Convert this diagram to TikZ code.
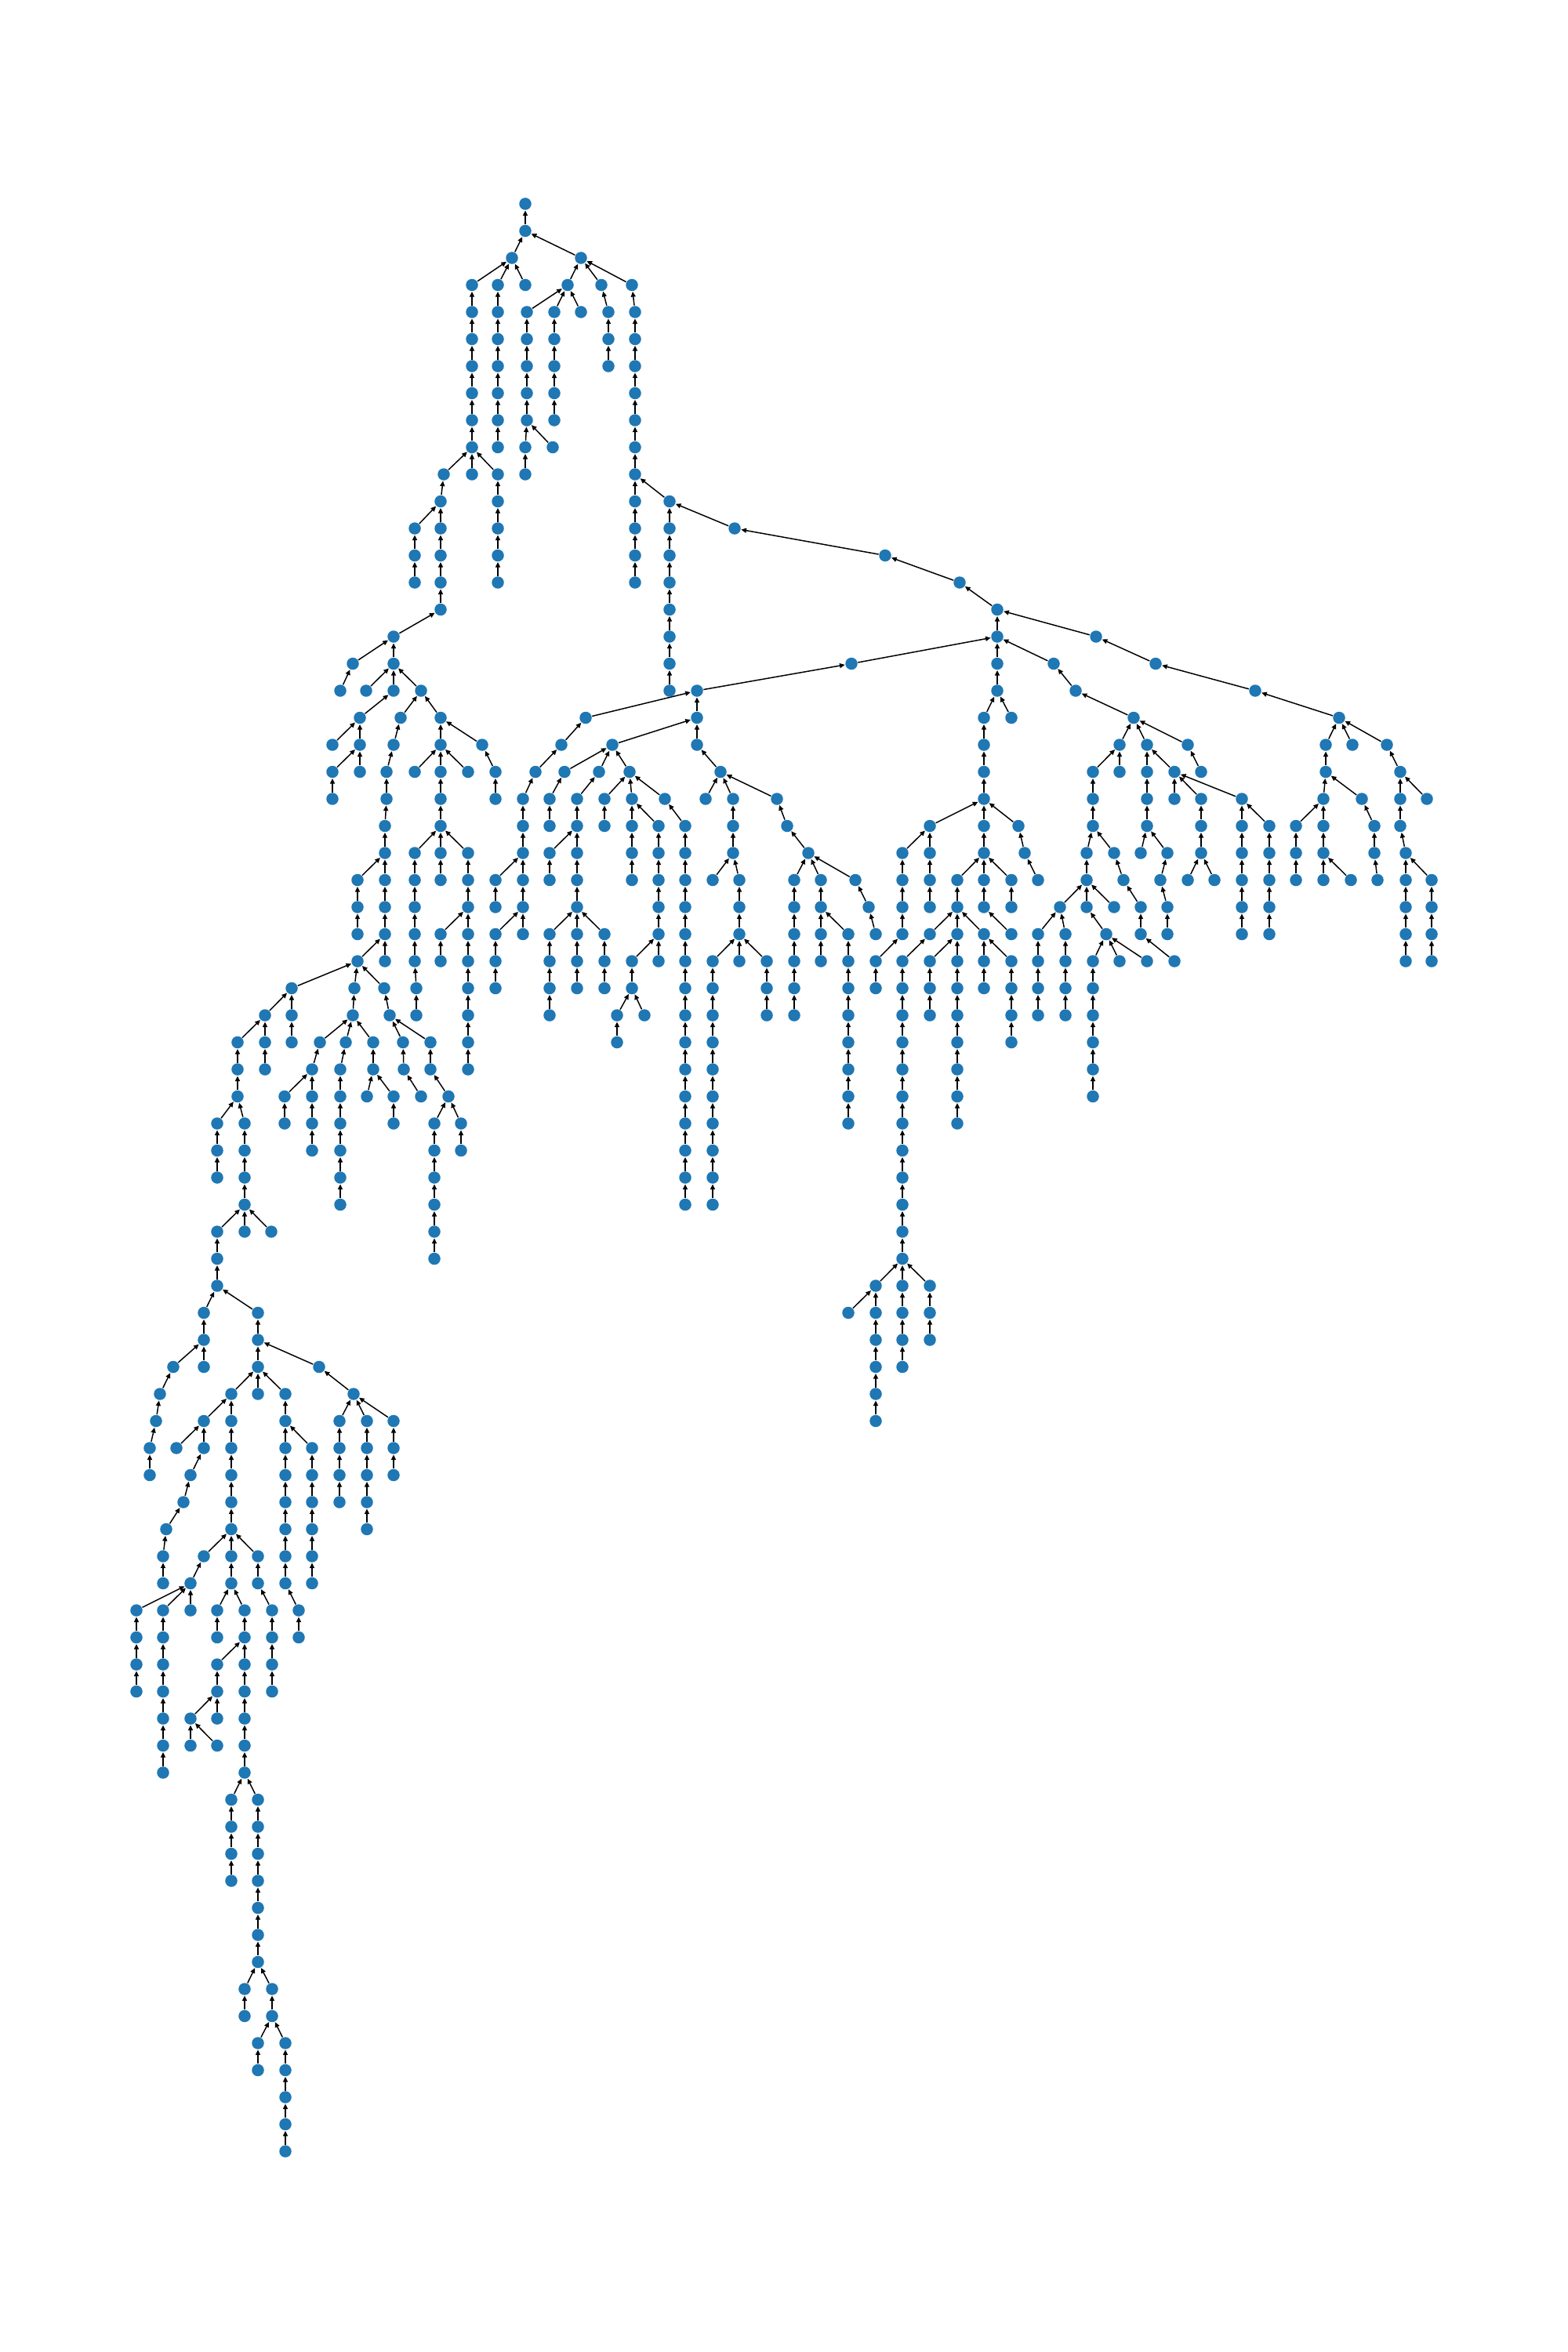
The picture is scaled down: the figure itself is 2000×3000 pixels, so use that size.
\documentclass[tikz,border=0pt]{standalone}
\usetikzlibrary{arrows.meta}
\definecolor{nxblue}{HTML}{1F77B4}
\pgfdeclarelayer{bg}
\pgfsetlayers{bg,main}
\tikzset{
  nd/.style={circle, fill=nxblue, draw=none, inner sep=0pt, minimum size=0.155cm},
  lnk/.style={line width=0.42pt, black, -{Triangle[length=1.9pt,width=1.7pt]}}
}
% chain: x, first level, last level, parent node of first
\newcommand\chn[4]{%
  \foreach \lv in {#2,...,#3}{\node[nd] (n#1-\lv) at (#1,{260+34.5*\lv}) {};}%
  \begin{pgfonlayer}{bg}%
  \foreach \lv in {#2,...,#3}{%
    \pgfmathtruncatemacro\pv{\lv-1}%
    \ifnum\lv=#2\relax\draw[lnk] (n#1-\lv) -- (#4);\else\draw[lnk] (n#1-\lv) -- (n#1-\pv);\fi}%
  \end{pgfonlayer}}
\begin{document}
\begin{tikzpicture}[x=0.01cm,y=-0.01cm]
\begin{pgfonlayer}{bg}
\fill[white] (0,0) rectangle (2000,3000);
\end{pgfonlayer}
\useasboundingbox (0,0) rectangle (2000,3000);
\node[nd] (n670-0) at (670,260) {};
\chn{670}{1}{1}{n670-0}
\chn{653}{2}{2}{n670-1}
\chn{741}{2}{2}{n670-1}
\chn{602}{3}{10}{n653-2}
\chn{635}{3}{9}{n653-2}
\chn{670}{3}{3}{n653-2}
\chn{724}{3}{3}{n741-2}
\chn{767}{3}{3}{n741-2}
\chn{806}{3}{3}{n741-2}
\chn{672}{4}{8}{n724-3}
\chn{707}{4}{8}{n724-3}
\chn{741}{4}{4}{n724-3}
\chn{670}{9}{10}{n672-8}
\chn{705}{9}{9}{n672-8}
\chn{776}{4}{6}{n767-3}
\chn{810}{4}{14}{n806-3}
\chn{854}{11}{18}{n810-10}
\chn{937}{12}{12}{n854-11}
\chn{566}{10}{10}{n602-9}
\chn{635}{10}{14}{n602-9}
\chn{562}{11}{15}{n566-10}
\chn{529}{12}{14}{n562-11}
\chn{502}{16}{18}{n562-15}
\chn{450}{17}{17}{n502-16}
\chn{434}{18}{18}{n450-17}
\chn{467}{18}{18}{n502-17}
\chn{537}{18}{18}{n502-17}
\chn{459}{19}{21}{n502-18}
\chn{424}{20}{20}{n459-19}
\chn{424}{21}{22}{n459-20}
\chn{511}{19}{19}{n537-18}
\chn{562}{19}{25}{n537-18}
\chn{502}{20}{20}{n511-19}
\chn{493}{21}{22}{n502-20}
\chn{491}{23}{28}{n493-22}
\chn{456}{25}{27}{n491-24}
\chn{456}{28}{28}{n491-27}
\chn{529}{21}{21}{n562-20}
\chn{597}{21}{21}{n562-20}
\chn{529}{24}{28}{n562-23}
\chn{531}{29}{30}{n529-28}
\chn{597}{24}{32}{n562-23}
\chn{562}{27}{28}{n597-26}
\chn{615}{20}{20}{n562-19}
\chn{632}{21}{22}{n615-20}
% 456 subtree
\chn{372}{29}{31}{n456-28}
\chn{452}{29}{29}{n456-28}
\chn{490}{29}{29}{n456-28}
\chn{338}{30}{32}{n372-29}
\chn{303}{31}{33}{n338-30}
\chn{277}{34}{36}{n303-33}
\chn{312}{34}{37}{n303-33}
\chn{277}{38}{40}{n312-37}
\chn{312}{38}{38}{n312-37}
\chn{346}{38}{38}{n312-37}
\chn{450}{30}{30}{n452-29}
\chn{408}{31}{31}{n450-30}
\chn{441}{31}{31}{n450-30}
\chn{476}{31}{32}{n450-30}
\chn{398}{32}{32}{n408-31}
\chn{363}{33}{34}{n398-32}
\chn{398}{33}{35}{n398-32}
\chn{434}{32}{37}{n441-31}
\chn{468}{33}{33}{n476-32}
\chn{502}{33}{34}{n476-32}
\chn{497}{30}{30}{n490-29}
\chn{514}{31}{31}{n497-30}
\chn{515}{32}{32}{n514-31}
\chn{537}{33}{33}{n515-32}
\chn{549}{31}{32}{n497-30}
\chn{572}{33}{33}{n549-32}
\chn{554}{34}{39}{n572-33}
\chn{588}{34}{35}{n572-33}
% 277 subtree
\chn{260}{41}{42}{n277-40}
\chn{329}{41}{44}{n277-40}
\chn{221}{43}{43}{n260-42}
\chn{260}{43}{43}{n260-42}
\chn{204}{44}{44}{n221-43}
\chn{199}{45}{45}{n204-44}
\chn{191}{46}{47}{n199-45}
\chn{407}{43}{43}{n329-42}
\chn{451}{44}{44}{n407-43}
\chn{433}{45}{48}{n451-44}
\chn{468}{45}{49}{n451-44}
\chn{502}{45}{47}{n451-44}
\chn{295}{44}{51}{n329-43}
\chn{260}{45}{46}{n295-44}
\chn{225}{46}{46}{n260-45}
\chn{243}{47}{47}{n260-46}
\chn{234}{48}{48}{n243-47}
\chn{212}{49}{49}{n234-48}
\chn{208}{50}{51}{n212-49}
\chn{260}{50}{50}{n295-49}
\chn{243}{51}{52}{n260-50}
\chn{174}{52}{55}{n243-51}
\chn{208}{52}{58}{n243-51}
\chn{329}{50}{51}{n295-49}
\chn{347}{52}{55}{n329-51}
\chn{277}{52}{53}{n295-51}
\chn{312}{52}{58}{n295-51}
\chn{277}{54}{55}{n312-53}
\chn{243}{56}{57}{n277-55}
\chn{277}{56}{56}{n277-55}
\chn{277}{57}{57}{n243-56}
\chn{295}{59}{62}{n312-58}
\chn{329}{59}{65}{n312-58}
\chn{312}{66}{67}{n329-65}
\chn{347}{66}{67}{n329-65}
\chn{329}{68}{69}{n347-67}
\chn{364}{68}{72}{n347-67}
\chn{364}{44}{51}{n329-43}
\chn{398}{46}{51}{n364-45}
\chn{381}{52}{53}{n364-51}
% 937 subtree
\chn{1129}{13}{13}{n937-12}
\chn{1224}{14}{14}{n1129-13}
\chn{1272}{15}{18}{n1224-14}
\chn{1398}{16}{16}{n1272-15}
\chn{1474}{17}{17}{n1398-16}
\chn{1601}{18}{18}{n1474-17}
\chn{1708}{19}{19}{n1601-18}
\chn{1086}{17}{17}{n1272-16}
\chn{1344}{17}{17}{n1272-16}
\chn{1372}{18}{18}{n1344-17}
\chn{1446}{19}{19}{n1372-18}
\chn{889}{18}{20}{n1086-17}
\chn{747}{19}{19}{n889-18}
\chn{781}{20}{20}{n889-19}
\chn{919}{21}{21}{n889-20}
\chn{900}{22}{22}{n919-21}
\chn{935}{22}{24}{n919-21}
\chn{991}{22}{22}{n919-21}
\chn{909}{25}{25}{n935-24}
\chn{943}{25}{27}{n935-24}
\chn{909}{28}{37}{n943-27}
\chn{943}{28}{28}{n943-27}
\chn{978}{28}{30}{n943-27}
\chn{1004}{23}{23}{n991-22}
\chn{1031}{24}{24}{n1004-23}
\chn{1013}{25}{30}{n1031-24}
\chn{1047}{25}{28}{n1031-24}
\chn{1082}{27}{34}{n1047-26}
\chn{1091}{25}{25}{n1031-24}
\chn{1108}{26}{26}{n1091-25}
\chn{1117}{27}{27}{n1108-26}
\chn{716}{20}{20}{n747-19}
\chn{683}{21}{21}{n716-20}
\chn{667}{22}{27}{n683-21}
\chn{632}{25}{26}{n667-24}
\chn{632}{27}{29}{n667-26}
\chn{720}{21}{21}{n781-20}
\chn{701}{22}{23}{n720-21}
\chn{764}{21}{21}{n781-20}
\chn{736}{22}{29}{n764-21}
\chn{701}{24}{25}{n736-23}
\chn{701}{27}{30}{n736-26}
\chn{771}{27}{29}{n736-26}
\chn{803}{21}{21}{n781-20}
\chn{771}{22}{23}{n803-21}
\chn{806}{22}{25}{n803-21}
\chn{840}{23}{28}{n806-22}
\chn{806}{28}{29}{n840-27}
\chn{787}{30}{31}{n806-29}
\chn{822}{30}{30}{n806-29}
\chn{848}{22}{22}{n803-21}
\chn{874}{23}{37}{n848-22}
% 1272 subtree
\chn{1255}{19}{26}{n1272-18}
\chn{1290}{19}{19}{n1272-18}
\chn{1186}{23}{26}{n1255-22}
\chn{1151}{24}{27}{n1186-23}
\chn{1117}{28}{29}{n1151-27}
\chn{1299}{23}{23}{n1255-22}
\chn{1307}{24}{24}{n1299-23}
\chn{1324}{25}{25}{n1307-24}
\chn{1221}{25}{26}{n1255-24}
\chn{1290}{25}{26}{n1255-24}
\chn{1290}{27}{27}{n1255-26}
\chn{1186}{27}{27}{n1221-26}
\chn{1221}{27}{34}{n1221-26}
\chn{1255}{27}{29}{n1221-26}
\chn{1186}{28}{30}{n1221-27}
\chn{1290}{28}{31}{n1255-27}
\chn{1151}{28}{43}{n1186-27}
\chn{1117}{40}{45}{n1151-39}
\chn{1082}{41}{41}{n1117-40}
\chn{1186}{40}{42}{n1151-39}
% 1446 subtree
\chn{1428}{20}{21}{n1446-19}
\chn{1394}{21}{23}{n1428-20}
\chn{1386}{24}{26}{n1394-23}
\chn{1421}{24}{24}{n1394-23}
\chn{1433}{25}{25}{n1421-24}
\chn{1455}{26}{27}{n1433-25}
\chn{1498}{28}{28}{n1455-27}
\chn{1352}{26}{26}{n1386-25}
\chn{1421}{26}{26}{n1386-25}
\chn{1324}{27}{30}{n1352-26}
\chn{1359}{27}{30}{n1352-26}
\chn{1411}{27}{27}{n1386-26}
\chn{1394}{28}{33}{n1411-27}
\chn{1428}{28}{28}{n1411-27}
\chn{1463}{28}{28}{n1411-27}
\chn{1463}{20}{23}{n1446-19}
\chn{1455}{24}{24}{n1463-23}
\chn{1489}{24}{24}{n1463-23}
\chn{1480}{25}{25}{n1489-24}
\chn{1489}{26}{27}{n1480-25}
\chn{1498}{21}{22}{n1463-20}
\chn{1532}{22}{24}{n1498-21}
\chn{1515}{25}{25}{n1532-24}
\chn{1549}{25}{25}{n1532-24}
\chn{1584}{22}{27}{n1498-21}
\chn{1619}{23}{27}{n1584-22}
\chn{1515}{20}{20}{n1446-19}
\chn{1532}{21}{21}{n1515-20}
% 1708 subtree
\chn{1691}{20}{21}{n1708-19}
\chn{1725}{20}{20}{n1708-19}
\chn{1769}{20}{20}{n1708-19}
\chn{1688}{22}{25}{n1691-21}
\chn{1653}{23}{25}{n1688-22}
\chn{1723}{25}{25}{n1688-24}
\chn{1737}{22}{22}{n1691-21}
\chn{1753}{23}{24}{n1737-22}
\chn{1757}{25}{25}{n1753-24}
\chn{1786}{21}{23}{n1769-20}
\chn{1820}{22}{22}{n1786-21}
\chn{1793}{24}{28}{n1786-23}
\chn{1826}{25}{28}{n1793-24}
\end{tikzpicture}
\end{document}
